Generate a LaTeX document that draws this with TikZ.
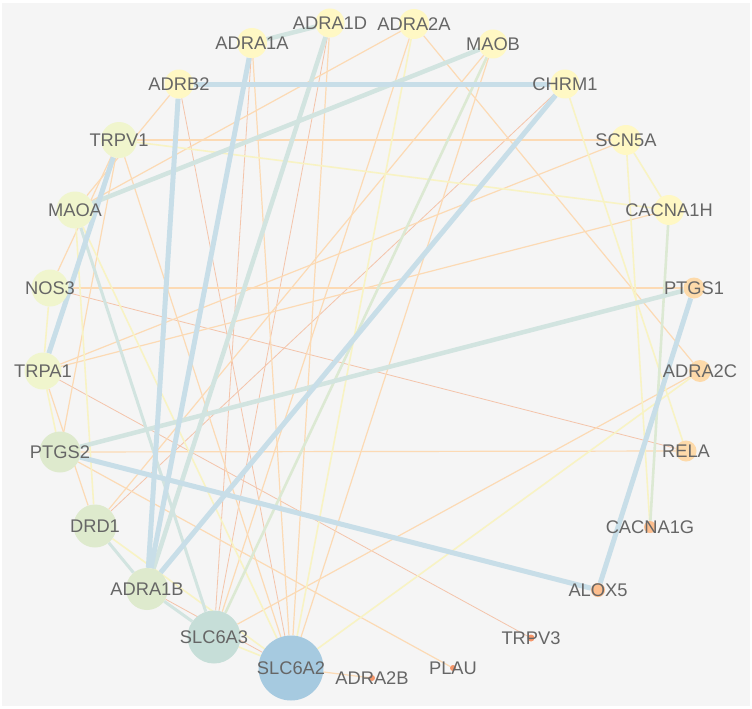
\documentclass[tikz,border=0pt]{standalone}
\usepackage{fontspec}
\setmainfont{Liberation Sans}
\pgfdeclarelayer{bgl}
\pgfdeclarelayer{edges}
\pgfsetlayers{bgl,edges,main}
\definecolor{bggray}{HTML}{F5F5F5}
\definecolor{txtgray}{HTML}{666666}
\definecolor{cY}{HTML}{FFF8C4}
\definecolor{cYG}{HTML}{F0F5CD}
\definecolor{cG}{HTML}{DEEACD}
\definecolor{cT}{HTML}{C6DED8}
\definecolor{cB}{HTML}{A6CAE0}
\definecolor{cO1}{HTML}{FDDAAA}
\definecolor{cO2}{HTML}{FDBE8E}
\definecolor{cO3}{HTML}{F5966A}
\definecolor{eB}{HTML}{C8DEE8}
\definecolor{eT}{HTML}{D2E4E0}
\definecolor{eG}{HTML}{DCE9D3}
\definecolor{eY}{HTML}{F8F3C4}
\definecolor{eO}{HTML}{FCDAB4}
\definecolor{eR}{HTML}{F4C4AA}
\tikzset{
  nd/.style={circle,draw=none,inner sep=0pt,minimum size=#1},
  lab/.style={text=txtgray,inner sep=0pt,font=\fontsize{18.3}{21}\selectfont},
  eblue/.style={draw=eB,line width=5pt},
  eteal/.style={draw=eT,line width=4.5pt},
  etealm/.style={draw=eT,line width=3pt},
  egreen/.style={draw=eG,line width=2.6pt},
  eyel/.style={draw=eY,line width=1.6pt},
  eora/.style={draw=eO,line width=1.2pt},
  ered/.style={draw=eR,line width=0.8pt},
}
\begin{document}
\begin{tikzpicture}[x=1pt,y=-1pt]
\useasboundingbox (0,0) rectangle (752,709);
\begin{pgfonlayer}{bgl}
\fill[white] (0,0) rectangle (752,709);
\fill[bggray] (2,3) rectangle (750,706);
\end{pgfonlayer}
% nodes
\node[nd=29pt,fill=cY,label={[lab]center:ADRA1D}] (ADRA1D) at (330,23) {};
\node[nd=30pt,fill=cY,label={[lab]center:ADRA2A}] (ADRA2A) at (414,24) {};
\node[nd=30pt,fill=cY,label={[lab]center:ADRA1A}] (ADRA1A) at (252,43) {};
\node[nd=29pt,fill=cY,label={[lab]center:MAOB}] (MAOB) at (493,44) {};
\node[nd=29pt,fill=cY,label={[lab]center:ADRB2}] (ADRB2) at (179,84) {};
\node[nd=29pt,fill=cY,label={[lab]center:CHRM1}] (CHRM1) at (565,84) {};
\node[nd=36pt,fill=cYG,label={[lab]center:TRPV1}] (TRPV1) at (119,140) {};
\node[nd=30pt,fill=cY,label={[lab]center:SCN5A}] (SCN5A) at (626,140) {};
\node[nd=37pt,fill=cYG,label={[lab]center:MAOA}] (MAOA) at (75,210) {};
\node[nd=30pt,fill=cY,label={[lab]center:CACNA1H}] (CACNA1H) at (669,210) {};
\node[nd=37pt,fill=cYG,label={[lab]center:NOS3}] (NOS3) at (50,288) {};
\node[nd=21pt,fill=cO1,label={[lab]center:PTGS1}] (PTGS1) at (694,288) {};
\node[nd=37pt,fill=cYG,label={[lab]center:TRPA1}] (TRPA1) at (43,371) {};
\node[nd=22pt,fill=cO1,label={[lab]center:ADRA2C}] (ADRA2C) at (700,371) {};
\node[nd=41pt,fill=cG,label={[lab]center:PTGS2}] (PTGS2) at (60,452) {};
\node[nd=21pt,fill=cO1,label={[lab]center:RELA}] (RELA) at (686,451) {};
\node[nd=43pt,fill=cG,label={[lab]center:DRD1}] (DRD1) at (95,526) {};
\node[nd=12pt,fill=cO2,label={[lab]center:CACNA1G}] (CACNA1G) at (650,527) {};
\node[nd=42pt,fill=cG,label={[lab]center:ADRA1B}] (ADRA1B) at (147,589) {};
\node[nd=14pt,fill=cO2,label={[lab]center:ALOX5}] (ALOX5) at (598,590) {};
\node[nd=53pt,fill=cT,label={[lab]center:SLC6A3}] (SLC6A3) at (214,637) {};
\node[nd=7pt,fill=cO3,label={[lab]center:TRPV3}] (TRPV3) at (531,638) {};
\node[nd=65pt,fill=cB,label={[lab]center:SLC6A2}] (SLC6A2) at (291,668) {};
\node[nd=6pt,fill=cO3,label={[lab]center:PLAU}] (PLAU) at (453,668) {};
\node[nd=6pt,fill=cO3,label={[lab]center:ADRA2B}] (ADRA2B) at (372,678) {};
% edges
\begin{pgfonlayer}{edges}
\draw[ered] (ADRB2) -- (SLC6A2);
\draw[ered] (ADRA1A) -- (SLC6A3);
\draw[ered] (ADRA1D) -- (SLC6A3);
\draw[ered] (CHRM1) -- (DRD1);
\draw[ered] (NOS3) -- (RELA);
\draw[ered] (TRPA1) -- (TRPV3);
\draw[ered] (ADRA1B) -- (SLC6A2);
\draw[eora] (TRPV1) -- (SCN5A);
\draw[eora] (NOS3) -- (PTGS1);
\draw[eora] (PTGS2) -- (RELA);
\draw[eora] (TRPA1) -- (SCN5A);
\draw[eora] (TRPA1) -- (CACNA1H);
\draw[eora] (ADRA1A) -- (SLC6A2);
\draw[eora] (ADRA1D) -- (SLC6A2);
\draw[eora] (ADRA2A) -- (SLC6A3);
\draw[eora] (MAOB) -- (SLC6A2);
\draw[eora] (ADRA2A) -- (ADRA2C);
\draw[eora] (ADRA2C) -- (SLC6A3);
\draw[eora] (PTGS2) -- (PLAU);
\draw[eora] (TRPV1) -- (NOS3);
\draw[eora] (TRPV1) -- (PTGS2);
\draw[eora] (ADRB2) -- (MAOA);
\draw[eora] (ADRA2A) -- (MAOA);
\draw[eora] (TRPA1) -- (DRD1);
\draw[eora] (MAOB) -- (DRD1);
\draw[eora] (SLC6A2) -- (ADRA2B);
\draw[eora] (TRPV1) -- (SLC6A2);
\draw[eyel] (ADRA2A) -- (SLC6A2);
\draw[eyel] (MAOA) -- (SLC6A2);
\draw[eyel] (MAOA) -- (DRD1);
\draw[eyel] (TRPV1) -- (CACNA1H);
\draw[eyel] (SCN5A) -- (CACNA1H);
\draw[eyel] (SCN5A) -- (CACNA1G);
\draw[eyel] (CHRM1) -- (RELA);
\draw[eyel] (ADRA2C) -- (SLC6A2);
\draw[eyel] (DRD1) -- (SLC6A2);
\draw[eyel] (NOS3) -- (TRPA1);
\draw[eyel] (TRPA1) -- (PTGS2);
\draw[eyel] (SLC6A3) -- (SLC6A2);
\draw[egreen] (MAOB) -- (SLC6A3);
\draw[egreen] (CACNA1H) -- (CACNA1G);
\draw[etealm] (MAOA) -- (SLC6A3);
\draw[etealm] (ADRA1B) -- (SLC6A3);
\draw[etealm] (DRD1) -- (ADRA1B);
\draw[eteal] (ADRA1D) -- (ADRA1B);
\draw[eteal] (MAOB) -- (MAOA);
\draw[eteal] (ADRA1A) -- (ADRA1D);
\draw[eteal] (PTGS2) -- (PTGS1);
\draw[eblue] (ADRB2) -- (CHRM1);
\draw[eblue] (ADRB2) -- (ADRA1B);
\draw[eblue] (ADRA1A) -- (ADRA1B);
\draw[eblue] (CHRM1) -- (ADRA1B);
\draw[eblue] (TRPV1) -- (TRPA1);
\draw[eblue] (PTGS2) -- (ALOX5);
\draw[eblue] (PTGS1) -- (ALOX5);
\end{pgfonlayer}
\end{tikzpicture}
\end{document}
